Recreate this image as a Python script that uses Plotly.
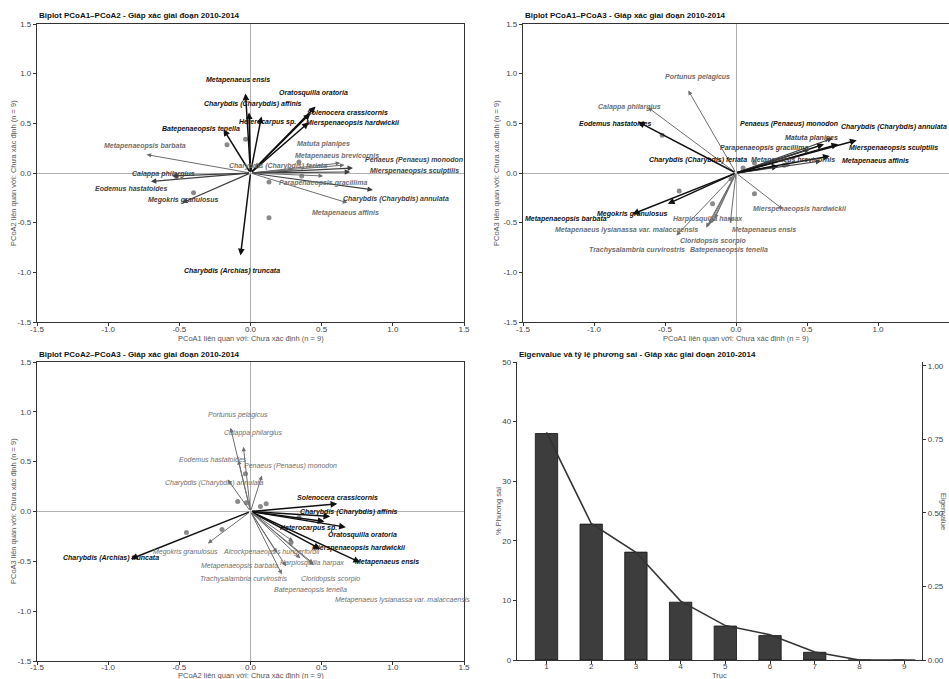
import plotly.graph_objects as go

FONT = "Liberation Sans, Arial, sans-serif"
W, H = 949, 679

# ------------------------------------------------------------------ data
SITE_PCOA1 = [-0.40, -0.165, 0.13, 0.13, 0.36, 0.34, -0.035, 0.05, -0.52]
SITE_PCOA2 = [-0.20, 0.285, -0.45, -0.09, -0.03, 0.11, 0.34, 0.07, -0.035]
SITE_PCOA3 = [-0.18, -0.31, -0.21, 0.10, 0.087, 0.077, -0.06, 0.05, 0.38]

# Biplot PCoA1-PCoA2 (level: 2 = strong, 1 = medium, 0 = weak)
P12_SPECIES = ["Metapenaeus ensis", "Oratosquilla oratoria", "Charybdis (Charybdis) affinis",
               "Solenocera crassicornis", "Heterocarpus sp.", "Mierspenaeopsis hardwickii",
               "Batepenaeopsis tenella", "Metapenaeopsis barbata", "Matuta planipes",
               "Metapenaeus brevicornis", "Penaeus (Penaeus) monodon", "Charybdis (Charybdis) feriata",
               "Mierspenaeopsis sculptilis", "Calappa philargius", "Eodemus hastatoides",
               "Parapenaeopsis gracillima", "Megokris granulosus", "Charybdis (Charybdis) annulata",
               "Metapenaeus affinis", "Charybdis (Archias) truncata"]
P12_X = [-0.035, 0.457, -0.01, 0.42, 0.077, 0.41, -0.19, -0.73, 0.66, 0.63, 0.72, 0.30,
         0.70, -0.55, -0.70, 0.51, -0.48, 0.86, 0.68, -0.07]
P12_Y = [0.80, 0.67, 0.61, 0.60, 0.57, 0.51, 0.44, 0.185, 0.08, 0.10, 0.05, 0.03,
         0.01, -0.03, -0.085, -0.03, -0.30, -0.17, -0.30, -0.83]
P12_LEVEL = [2, 2, 2, 2, 2, 2, 2, 0, 0, 0, 1, 0, 1, 1, 1, 0, 1, 1, 0, 2]

# Biplot PCoA1-PCoA3
P13_SPECIES = ["Portunus pelagicus", "Calappa philargius", "Eodemus hastatoides",
               "Penaeus (Penaeus) monodon", "Charybdis (Charybdis) annulata", "Matuta planipes",
               "Parapenaeopsis gracillima", "Mierspenaeopsis sculptilis", "Charybdis (Charybdis) feriata",
               "Metapenaeus brevicornis", "Metapenaeus affinis", "Mierspenaeopsis hardwickii",
               "Megokris granulosus", "Metapenaeopsis barbata", "Harpiosquilla harpax",
               "Metapenaeus lysianassa var. malaccaensis", "Metapenaeus ensis", "Cloridopsis scorpio",
               "Trachysalambria curvirostris", "Batepenaeopsis tenella"]
P13_X = [-0.336, -0.62, -0.69, 0.62, 0.85, 0.68, 0.52, 0.72, 0.30, 0.60, 0.66, 0.33,
         -0.48, -0.73, -0.17, -0.21, -0.04, -0.15, -0.42, -0.19]
P13_Y = [0.83, 0.66, 0.515, 0.29, 0.33, 0.35, 0.24, 0.29, 0.07, 0.12, 0.17, -0.365,
         -0.31, -0.415, -0.50, -0.55, -0.50, -0.46, -0.63, -0.52]
P13_LEVEL = [0, 0, 2, 2, 2, 1, 1, 2, 2, 1, 2, 0, 2, 2, 0, 0, 0, 0, 0, 0]

# Biplot PCoA2-PCoA3
P23_SPECIES = ["Portunus pelagicus", "Calappa philargius", "Eodemus hastatoides",
               "Penaeus (Penaeus) monodon", "Charybdis (Charybdis) annulata", "Solenocera crassicornis",
               "Charybdis (Charybdis) affinis", "Heterocarpus sp.", "Oratosquilla oratoria",
               "Mierspenaeopsis hardwickii", "Metapenaeus ensis", "Charybdis (Archias) truncata",
               "Megokris granulosus", "Alcockpenaeopsis hungerfordii", "Harpiosquilla harpax",
               "Metapenaeopsis barbata", "Trachysalambria curvirostris", "Cloridopsis scorpio",
               "Batepenaeopsis tenella", "Metapenaeus lysianassa var. malaccaensis"]
P23_X = [-0.14, -0.05, -0.085, 0.08, -0.16, 0.61, 0.56, 0.52, 0.67, 0.49, 0.77, -0.84,
         -0.30, 0.30, 0.445, 0.185, 0.22, 0.35, 0.44, 0.25]
P23_Y = [0.84, 0.65, 0.515, 0.36, 0.32, 0.077, -0.05, -0.10, -0.157, -0.375, -0.51, -0.475,
         -0.32, -0.30, -0.54, -0.415, -0.63, -0.47, -0.52, -0.55]
P23_LEVEL = [0, 0, 0, 0, 0, 2, 2, 2, 2, 2, 2, 2, 0, 0, 0, 0, 0, 0, 0, 0]

# Eigenvalue panel
AXIS_NO = [1, 2, 3, 4, 5, 6, 7, 8, 9]
PCT_VAR = [38.0, 22.8, 18.1, 9.7, 5.7, 4.1, 1.3, 0.0, 0.0]
EIGENVALUE = [0.774, 0.464, 0.366, 0.200, 0.117, 0.086, 0.027, 0.0, 0.0]

BIPLOT_TICKS = [-1.5, -1.0, -0.5, 0.0, 0.5, 1.0, 1.5]
BIPLOT_TICKTEXT = ["-1.5", "-1.0", "-0.5", "0.0", "0.5", "1.0", "1.5"]
EIG_TICKS = [0, 0.25, 0.5, 0.75, 1.0]
EIG_TICKTEXT = ["0.00", "0.25", "0.50", "0.75", "1.00"]

# ------------------------------------------------------------------ label placement (data coords)
LABEL_POS_12 = {
    "Metapenaeus ensis": (-0.09, 0.94), "Oratosquilla oratoria": (0.44, 0.81),
    "Charybdis (Charybdis) affinis": (0.02, 0.69), "Solenocera crassicornis": (0.68, 0.61),
    "Heterocarpus sp.": (0.12, 0.51), "Mierspenaeopsis hardwickii": (0.72, 0.50),
    "Batepenaeopsis tenella": (-0.35, 0.44), "Metapenaeopsis barbata": (-0.74, 0.27),
    "Matuta planipes": (0.51, 0.29), "Metapenaeus brevicornis": (0.61, 0.175),
    "Penaeus (Penaeus) monodon": (1.15, 0.135), "Charybdis (Charybdis) feriata": (0.19, 0.075),
    "Mierspenaeopsis sculptilis": (1.15, 0.02), "Calappa philargius": (-0.61, -0.01),
    "Eodemus hastatoides": (-0.84, -0.16), "Parapenaeopsis gracillima": (0.51, -0.10),
    "Megokris granulosus": (-0.47, -0.27), "Charybdis (Charybdis) annulata": (1.02, -0.26),
    "Metapenaeus affinis": (0.67, -0.40), "Charybdis (Archias) truncata": (-0.13, -0.99),
}
LABEL_POS_13 = {
    "Portunus pelagicus": (-0.27, 0.97), "Calappa philargius": (-0.75, 0.66),
    "Eodemus hastatoides": (-0.85, 0.495), "Penaeus (Penaeus) monodon": (0.37, 0.495),
    "Charybdis (Charybdis) annulata": (1.11, 0.46), "Matuta planipes": (0.53, 0.355),
    "Parapenaeopsis gracillima": (0.20, 0.25), "Mierspenaeopsis sculptilis": (1.11, 0.25),
    "Charybdis (Charybdis) feriata": (-0.27, 0.13), "Metapenaeus brevicornis": (0.40, 0.13),
    "Metapenaeus affinis": (0.98, 0.12), "Mierspenaeopsis hardwickii": (0.45, -0.365),
    "Megokris granulosus": (-0.73, -0.41), "Metapenaeopsis barbata": (-1.20, -0.465),
    "Harpiosquilla harpax": (-0.20, -0.465), "Metapenaeus lysianassa var. malaccaensis": (-0.77, -0.57),
    "Metapenaeus ensis": (0.20, -0.57), "Cloridopsis scorpio": (-0.16, -0.68),
    "Trachysalambria curvirostris": (-0.70, -0.78), "Batepenaeopsis tenella": (-0.05, -0.78),
}
LABEL_POS_23 = {
    "Portunus pelagicus": (-0.09, 0.97), "Calappa philargius": (0.02, 0.79),
    "Eodemus hastatoides": (-0.26, 0.52), "Penaeus (Penaeus) monodon": (0.28, 0.46),
    "Charybdis (Charybdis) annulata": (-0.25, 0.29), "Solenocera crassicornis": (0.61, 0.14),
    "Charybdis (Charybdis) affinis": (0.69, 0.0), "Heterocarpus sp.": (0.41, -0.17),
    "Oratosquilla oratoria": (0.785, -0.24), "Mierspenaeopsis hardwickii": (0.76, -0.365),
    "Metapenaeus ensis": (0.96, -0.51), "Charybdis (Archias) truncata": (-0.98, -0.465),
    "Megokris granulosus": (-0.46, -0.41), "Alcockpenaeopsis hungerfordii": (0.15, -0.41),
    "Harpiosquilla harpax": (0.43, -0.515), "Metapenaeopsis barbata": (-0.08, -0.55),
    "Trachysalambria curvirostris": (-0.05, -0.675), "Cloridopsis scorpio": (0.56, -0.68),
    "Batepenaeopsis tenella": (0.42, -0.785), "Metapenaeus lysianassa var. malaccaensis": (1.07, -0.89),
}

LEVEL_COLOR = {2: "#111111", 1: "#3f3f3f", 0: "#6e6e6e"}
LEVEL_WIDTH = {2: 1.5, 1: 1.2, 0: 1.0}


def fx(px):
    return px / W


def fy(py):
    return 1 - py / H


fig = go.Figure()
annotations = []


def add_biplot(xa, ya, sx, sy, species, vx, vy, level, labels, weak_bold=True):
    xr, yr = "x" + xa[5:], "y" + ya[5:]
    fig.add_trace(go.Scatter(x=sx, y=sy, mode="markers", xaxis=xr, yaxis=yr,
                             marker=dict(size=5, color="#8a8a8a"), showlegend=False,
                             hoverinfo="skip"))
    for name, x, y, lv in zip(species, vx, vy, level):
        annotations.append(dict(x=x, y=y, ax=0, ay=0, xref=xr, yref=yr, axref=xr, ayref=yr,
                                text="", showarrow=True, arrowhead=2, arrowsize=0.9,
                                arrowwidth=LEVEL_WIDTH[lv], arrowcolor=LEVEL_COLOR[lv],
                                standoff=0, startstandoff=0))
    for name, lv in zip(species, level):
        lx, ly = labels[name]
        txt = f"<i>{name}</i>"
        if lv > 0 or weak_bold:
            txt = f"<b>{txt}</b>"
        annotations.append(dict(x=lx, y=ly, xref=xr, yref=yr, text=txt, showarrow=False,
                                xanchor="center", yanchor="middle",
                                font=dict(family=FONT, size=7, color=LEVEL_COLOR[lv])))


add_biplot("xaxis", "yaxis", SITE_PCOA1, SITE_PCOA2, P12_SPECIES, P12_X, P12_Y, P12_LEVEL, LABEL_POS_12)
add_biplot("xaxis2", "yaxis2", SITE_PCOA1, SITE_PCOA3, P13_SPECIES, P13_X, P13_Y, P13_LEVEL, LABEL_POS_13)
add_biplot("xaxis3", "yaxis3", SITE_PCOA2, SITE_PCOA3, P23_SPECIES, P23_X, P23_Y, P23_LEVEL, LABEL_POS_23,
           weak_bold=False)

# eigen panel
fig.add_trace(go.Bar(x=AXIS_NO, y=PCT_VAR, xaxis="x4", yaxis="y4", width=0.5,
                     marker=dict(color="#3d3d3d", line=dict(color="#111111", width=0.8)),
                     showlegend=False, hoverinfo="skip"))
fig.add_trace(go.Scatter(x=AXIS_NO, y=EIGENVALUE, xaxis="x4", yaxis="y5", mode="lines",
                         line=dict(color="#333333", width=1.6), showlegend=False,
                         hoverinfo="skip"))

tickfont = dict(family=FONT, size=8, color="#444444")

COMMON = dict(showline=True, linecolor="#333333", linewidth=1.3, ticks="outside", ticklen=3,
              tickwidth=1, tickcolor="#333333", showgrid=False, tickfont=tickfont,
              automargin=False, fixedrange=True)


def biplot_axis(domain, anchor, standoff):
    return dict(domain=domain, anchor=anchor, range=[-1.5, 1.5], tickvals=BIPLOT_TICKS,
                ticktext=BIPLOT_TICKTEXT, mirror=True, zeroline=True,
                zerolinecolor="#b0b0b0", zerolinewidth=1, ticklabelstandoff=standoff, **COMMON)


top_y = [fy(322), fy(24)]
bot_y = [fy(661), fy(362)]
left_x = [fx(37), fx(464)]
right_x = [fx(523), 1.0]

fig.update_layout(
    width=W, height=H, autosize=False,
    margin=dict(l=0, r=0, t=0, b=0, autoexpand=False),
    paper_bgcolor="white", plot_bgcolor="white",
    font=dict(family=FONT, color="#333333"),
    xaxis=biplot_axis(left_x, "y", -4), yaxis=biplot_axis(top_y, "x", 0),
    xaxis2=biplot_axis(right_x, "y2", -4), yaxis2=biplot_axis(top_y, "x2", 0),
    xaxis3=biplot_axis(left_x, "y3", -5), yaxis3=biplot_axis(bot_y, "x3", 0),
    xaxis4=dict(domain=[fx(517), fx(922)], anchor="y4", range=[0.34, 9.4], tickvals=AXIS_NO,
                zeroline=False, ticklabelstandoff=-5, **COMMON),
    yaxis4=dict(domain=[fy(660), fy(362)], anchor="x4", range=[0, 50],
                tickvals=[0, 10, 20, 30, 40, 50], zeroline=False, **COMMON),
    yaxis5=dict(overlaying="y4", side="right", anchor="x4", range=[0, 1.013],
                tickvals=EIG_TICKS, ticktext=EIG_TICKTEXT, zeroline=False, **COMMON),
    bargap=0.5,
)

title_font = dict(family=FONT, size=8, color="#111111")
axis_font = dict(family=FONT, size=7.5, color="#555555")


def paper_text(text, px, py, font, xanchor="center", angle=0):
    annotations.append(dict(x=fx(px), y=fy(py), xref="paper", yref="paper", text=text,
                            showarrow=False, xanchor=xanchor, yanchor="middle",
                            textangle=angle, font=font))


paper_text("<b>Biplot PCoA1–PCoA2 - Giáp xác giai đoạn 2010-2014</b>", 37, 15, title_font, "left")
paper_text("<b>Biplot PCoA1–PCoA3 - Giáp xác giai đoạn 2010-2014</b>", 523, 15, title_font, "left")
paper_text("<b>Biplot PCoA2–PCoA3 - Giáp xác giai đoạn 2010-2014</b>", 37, 354, title_font, "left")
paper_text("<b>Eigenvalue và tỷ lệ phương sai - Giáp xác giai đoạn 2010-2014</b>", 517, 354,
           title_font, "left")

paper_text("PCoA1 liên quan với: Chưa xác định (n = 9)", 250.5, 338, axis_font)
paper_text("PCoA2 liên quan với: Chưa xác định (n = 9)", 13, 173, axis_font, angle=-90)
paper_text("PCoA1 liên quan với: Chưa xác định (n = 9)", 736, 338, axis_font)
paper_text("PCoA3 liên quan với: Chưa xác định (n = 9)", 496, 173, axis_font, angle=-90)
paper_text("PCoA2 liên quan với: Chưa xác định (n = 9)", 250.5, 675.5, axis_font)
paper_text("PCoA3 liên quan với: Chưa xác định (n = 9)", 13, 511, axis_font, angle=-90)
paper_text("Trục", 719.5, 675.5, axis_font)
paper_text("% Phương sai", 498, 511, axis_font, angle=-90)
paper_text("Eigenvalue", 944, 511, axis_font, angle=90)

fig.update_layout(annotations=annotations)
fig.write_html("out.html", config={"displayModeBar": False},
               post_script="document.body.style.margin='0';"
                           "document.body.style.overflow='hidden';")
